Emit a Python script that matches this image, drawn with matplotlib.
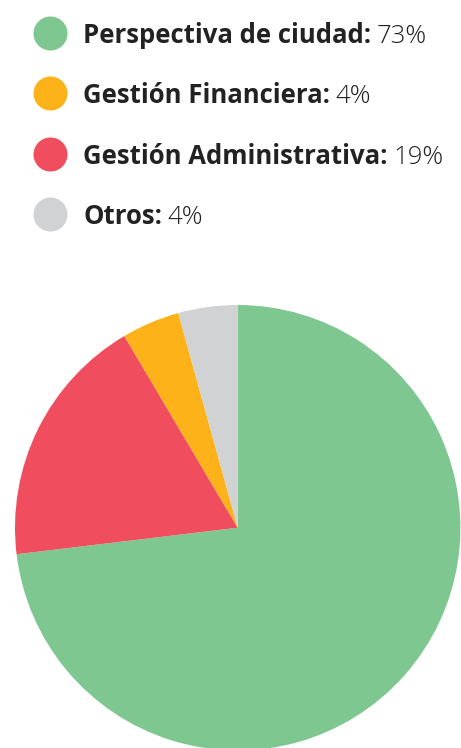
import matplotlib.pyplot as plt

labels = ['Perspectiva de ciudad', 'Gestión Financiera', 'Gestión Administrativa', 'Otros']
pct_labels = ['73%', '4%', '19%', '4%']
shares = [73.1, 4.2, 18.4, 4.3]
colors = ['#7EC791', '#FDB21A', '#F04D5F', '#D1D2D4']

# pie order, clockwise from the top
pie_order = [0, 2, 1, 3]

plt.rcParams['font.family'] = ['Open Sans', 'DejaVu Sans']

W, H = 461, 748
fig = plt.figure(figsize=(W / 100, H / 100), dpi=100)
ax = fig.add_axes([0, 0, 1, 1])

ax.pie([shares[i] for i in pie_order], colors=[colors[i] for i in pie_order],
       startangle=90, counterclock=False, center=(237.7, H - 527.7), radius=222.7,
       frame=True, wedgeprops=dict(linewidth=0))
ax.set_xlim(0, W)
ax.set_ylim(0, H)
ax.set_aspect('equal')
ax.axis('off')

ys = [33, 93, 154, 214]
for i, lab in enumerate(labels):
    y = H - ys[i]
    ax.scatter([50], [y], s=600, color=colors[i], linewidths=0, zorder=3)
    t = ax.text(83, y - 10, lab + ':', fontsize=18.5, fontweight='bold',
                color='#222222', va='baseline')
    ax.annotate(pct_labels[i], xy=(1, 0), xycoords=t, xytext=(4, 0),
                textcoords='offset points', fontsize=18.5, fontweight='light',
                color='#222222', va='bottom')

fig.savefig('out.png', dpi=100)
